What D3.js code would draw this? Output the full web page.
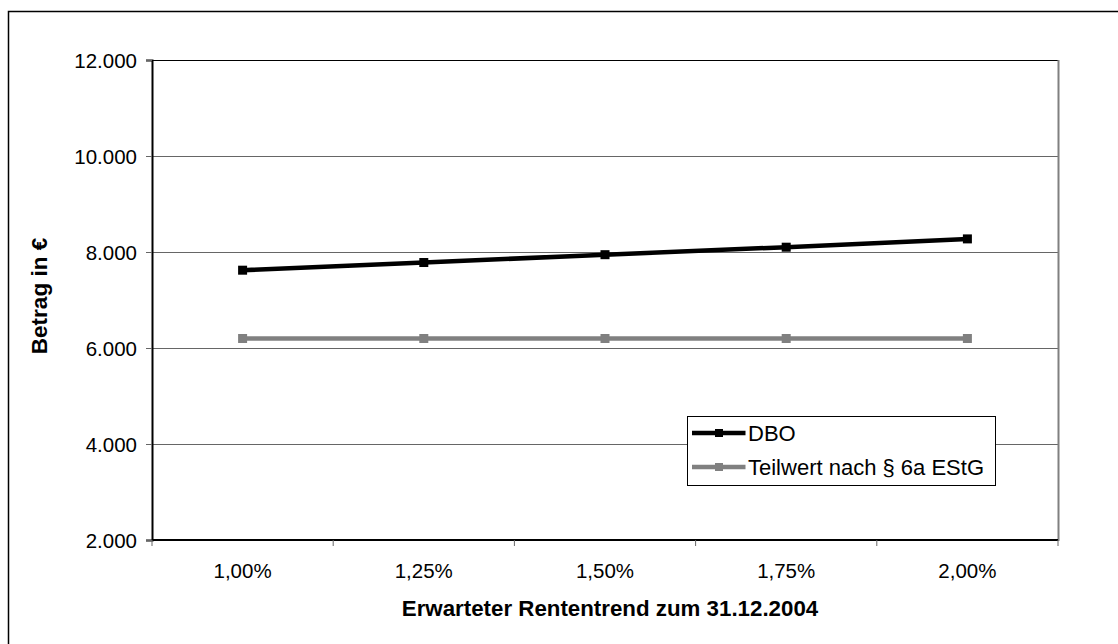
<!DOCTYPE html>
<html>
<head>
<meta charset="utf-8">
<script src="https://cdn.jsdelivr.net/npm/d3@7"></script>
<style>
  html, body { margin: 0; padding: 0; background: #fff; }
  svg { display: block; font-family: "Liberation Sans", Arial, sans-serif; }
</style>
</head>
<body>
<svg id="chart" width="1118" height="644"></svg>
<script>
// Pension trend scenarios and resulting amounts in €
const categories = ["1,00%", "1,25%", "1,50%", "1,75%", "2,00%"];
const dboValues = [7621, 7781, 7944, 8100, 8273];
const teilwertValues = [6198, 6198, 6198, 6198, 6198];
const yTicks = [2000, 4000, 6000, 8000, 10000, 12000];
const seriesNames = ["DBO", "Teilwert nach § 6a EStG"];

const series = [
  { name: seriesNames[0], values: dboValues, color: "#000000" },
  { name: seriesNames[1], values: teilwertValues, color: "#808080" }
];

const svg = d3.select("#chart");
const plot = { left: 152, right: 1058, top: 60, bottom: 540 };

// Outer frame (runs off the right and bottom edges)
svg.append("rect")
  .attr("x", 8.5).attr("y", 11.5)
  .attr("width", 1130).attr("height", 660)
  .attr("fill", "none").attr("stroke", "#000").attr("stroke-width", 1.5);

const x = d3.scaleBand().domain(categories).range([plot.left, plot.right]).padding(0);
const y = d3.scaleLinear().domain([2000, 12000]).range([plot.bottom, plot.top]);

const fmt = v => d3.format(",")(v).replace(/,/g, ".");

// Horizontal gridlines
svg.append("g").selectAll("line")
  .data(yTicks.filter(t => t > 2000))
  .join("line")
  .attr("x1", plot.left).attr("x2", plot.right)
  .attr("y1", d => Math.round(y(d)) + 0.5).attr("y2", d => Math.round(y(d)) + 0.5)
  .attr("stroke", d => d === 12000 ? "#000" : "#666")
  .attr("stroke-width", 1);

// Right edge of plot area
svg.append("line")
  .attr("x1", plot.right + 0.5).attr("x2", plot.right + 0.5)
  .attr("y1", plot.top).attr("y2", plot.bottom + 1)
  .attr("stroke", "#808080").attr("stroke-width", 2);

// Y axis
const yAxis = d3.axisLeft(y).tickValues(yTicks).tickFormat(fmt).tickSize(6).tickPadding(9);
const gy = svg.append("g").attr("transform", `translate(${plot.left},0)`).call(yAxis);
gy.attr("font-size", null).attr("font-family", null);
gy.select(".domain").attr("stroke", "#000").attr("stroke-width", 2);
gy.selectAll(".tick line").attr("stroke", "#666");
gy.selectAll(".tick text")
  .style("font-size", "20.5px").attr("fill", "#000")
  .attr("dy", "0.36em");

// X axis with ticks at category boundaries
const gx = svg.append("g").attr("transform", `translate(0,${plot.bottom})`);
gx.append("line")
  .attr("x1", plot.left).attr("x2", plot.right)
  .attr("y1", 0).attr("y2", 0)
  .attr("stroke", "#000").attr("stroke-width", 2);
const boundaries = categories.map(c => x(c)).concat([plot.right]);
gx.selectAll("line.tk").data(boundaries).join("line").attr("class", "tk")
  .attr("x1", d => d).attr("x2", d => d)
  .attr("y1", 0).attr("y2", 6)
  .attr("stroke", "#666");
gx.selectAll("text").data(categories).join("text")
  .attr("x", d => x(d) + x.bandwidth() / 2)
  .attr("y", 38)
  .attr("text-anchor", "middle")
  .style("font-size", "20.5px")
  .text(d => d);

// Axis titles
svg.append("text")
  .attr("x", 610).attr("y", 616)
  .attr("text-anchor", "middle")
  .style("font-size", "22.3px").attr("font-weight", "bold")
  .text("Erwarteter Rententrend zum 31.12.2004");
svg.append("text")
  .attr("transform", "translate(47,296) rotate(-90)")
  .attr("text-anchor", "middle")
  .style("font-size", "22.5px").attr("font-weight", "bold")
  .text("Betrag in €");

// Lines and square markers
const line = d3.line()
  .x((d, i) => x(categories[i]) + x.bandwidth() / 2)
  .y(d => y(d));

series.forEach(s => {
  const g = svg.append("g");
  g.append("path").datum(s.values)
    .attr("d", line)
    .attr("fill", "none")
    .attr("stroke", s.color)
    .attr("stroke-width", 4.5);
  g.selectAll("rect").data(s.values).join("rect")
    .attr("x", (d, i) => x(categories[i]) + x.bandwidth() / 2 - 4.5)
    .attr("y", d => y(d) - 4.5)
    .attr("width", 9).attr("height", 9)
    .attr("fill", s.color);
});

// Legend
const legend = svg.append("g").attr("transform", "translate(687.5,416.5)");
legend.append("rect")
  .attr("width", 308).attr("height", 69)
  .attr("fill", "#fff").attr("stroke", "#000").attr("stroke-width", 1);
series.forEach((s, i) => {
  const cy = 16.5 + i * 34;
  legend.append("line")
    .attr("x1", 4.5).attr("x2", 58).attr("y1", cy).attr("y2", cy)
    .attr("stroke", s.color).attr("stroke-width", 4.5);
  legend.append("rect")
    .attr("x", 27.5).attr("y", cy - 4).attr("width", 8).attr("height", 8)
    .attr("fill", s.color);
  legend.append("text")
    .attr("x", 60.5).attr("y", cy + 8)
    .style("font-size", "22px")
    .text(s.name);
});
</script>
</body>
</html>
